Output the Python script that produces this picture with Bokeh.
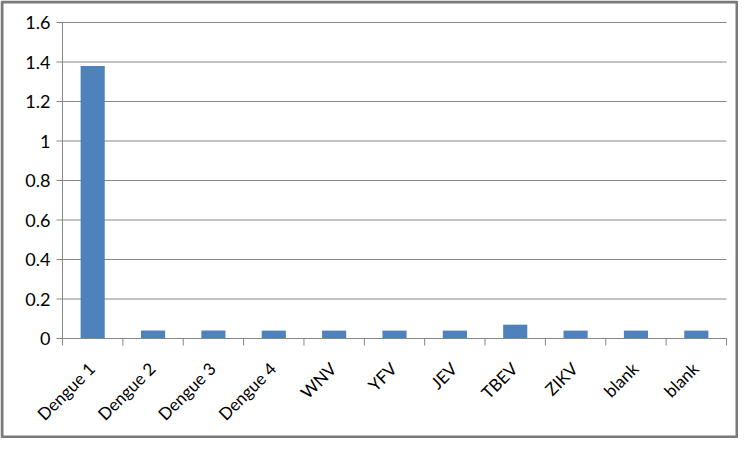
from bokeh.plotting import figure
from bokeh.models import Range1d, BoxAnnotation, ColumnDataSource
from bokeh.core.properties import value
from bokeh.embed import file_html
from bokeh.resources import INLINE

categories = ["Dengue 1", "Dengue 2", "Dengue 3", "Dengue 4", "WNV", "YFV",
              "JEV", "TBEV", "ZIKV", "blank", "blank"]
values = [1.38, 0.04, 0.04, 0.04, 0.04, 0.04, 0.04, 0.07, 0.04, 0.04, 0.04]
y_ticks = [0, 0.2, 0.4, 0.6, 0.8, 1, 1.2, 1.4, 1.6]
y_labels = ["0", "0.2", "0.4", "0.6", "0.8", "1", "1.2", "1.4", "1.6"]

n = len(categories)
ymax = y_ticks[-1]
xs = [i + 0.5 for i in range(n)]
bounds = list(range(n + 1))

# layout (pixels) of the plot area inside the canvas
W, H = 738, 438
PL, PR, PT, PB = 62, 726, 22, 338
sx = (PR - PL) / n
sy = (PB - PT) / ymax
x_range = Range1d(-PL / sx, n + (W - PR) / sx)
y_range = Range1d(-(H - PB) / sy, ymax + PT / sy)

p = figure(width=W, height=H, output_backend="svg", toolbar_location=None,
           x_range=x_range, y_range=y_range, min_border=0,
           x_axis_location=None, y_axis_location=None)
p.outline_line_color = None
p.xgrid.visible = False
p.ygrid.visible = False
p.background_fill_color = "white"
p.border_fill_color = "white"

axis_color = "#868686"
font = "Lato"

# horizontal gridlines
p.segment(x0=[0] * len(y_ticks), x1=[n] * len(y_ticks), y0=y_ticks, y1=y_ticks,
          line_color=axis_color, line_width=1)
# y axis line, ticks, labels
p.segment(x0=[0], x1=[0], y0=[0], y1=[ymax], line_color=axis_color, line_width=1)
p.segment(x0=[-6 / sx] * len(y_ticks), x1=[0] * len(y_ticks), y0=y_ticks, y1=y_ticks,
          line_color=axis_color, line_width=1)
p.text(x=[0] * len(y_ticks), y=y_ticks, text=y_labels, x_offset=-12,
       text_align="right", text_baseline="middle", text_font=value(font),
       text_font_size="18px", text_color="black")

# bars
src = ColumnDataSource(dict(x=xs, top=values, name=categories, zero=[0] * n))
p.vbar(x="x", top="top", width=0.4, bottom=0, source=src,
       fill_color="#4F81BD", line_color=None)

# x axis line, ticks between categories, rotated labels
p.segment(x0=[0], x1=[n], y0=[0], y1=[0], line_color=axis_color, line_width=1)
p.segment(x0=bounds, x1=bounds, y0=[0] * len(bounds), y1=[-7 / sy] * len(bounds),
          line_color=axis_color, line_width=1)
p.text(x="x", y="zero", text="name", source=src, angle=45, angle_units="deg",
       text_align="right", text_baseline="middle", x_offset=-1, y_offset=27,
       text_font=value(font), text_font_size="17px", text_color="black")

# outer chart border
border = BoxAnnotation(left=1.5, right=W - 1.5, top=1.5, bottom=H - 1.5,
                       left_units="canvas", right_units="canvas",
                       top_units="canvas", bottom_units="canvas",
                       fill_color=None, line_color="#7a7a7a", line_alpha=1.0,
                       line_width=3, editable=False)
p.add_layout(border)

open("out.html", "w").write(file_html(p, INLINE))
